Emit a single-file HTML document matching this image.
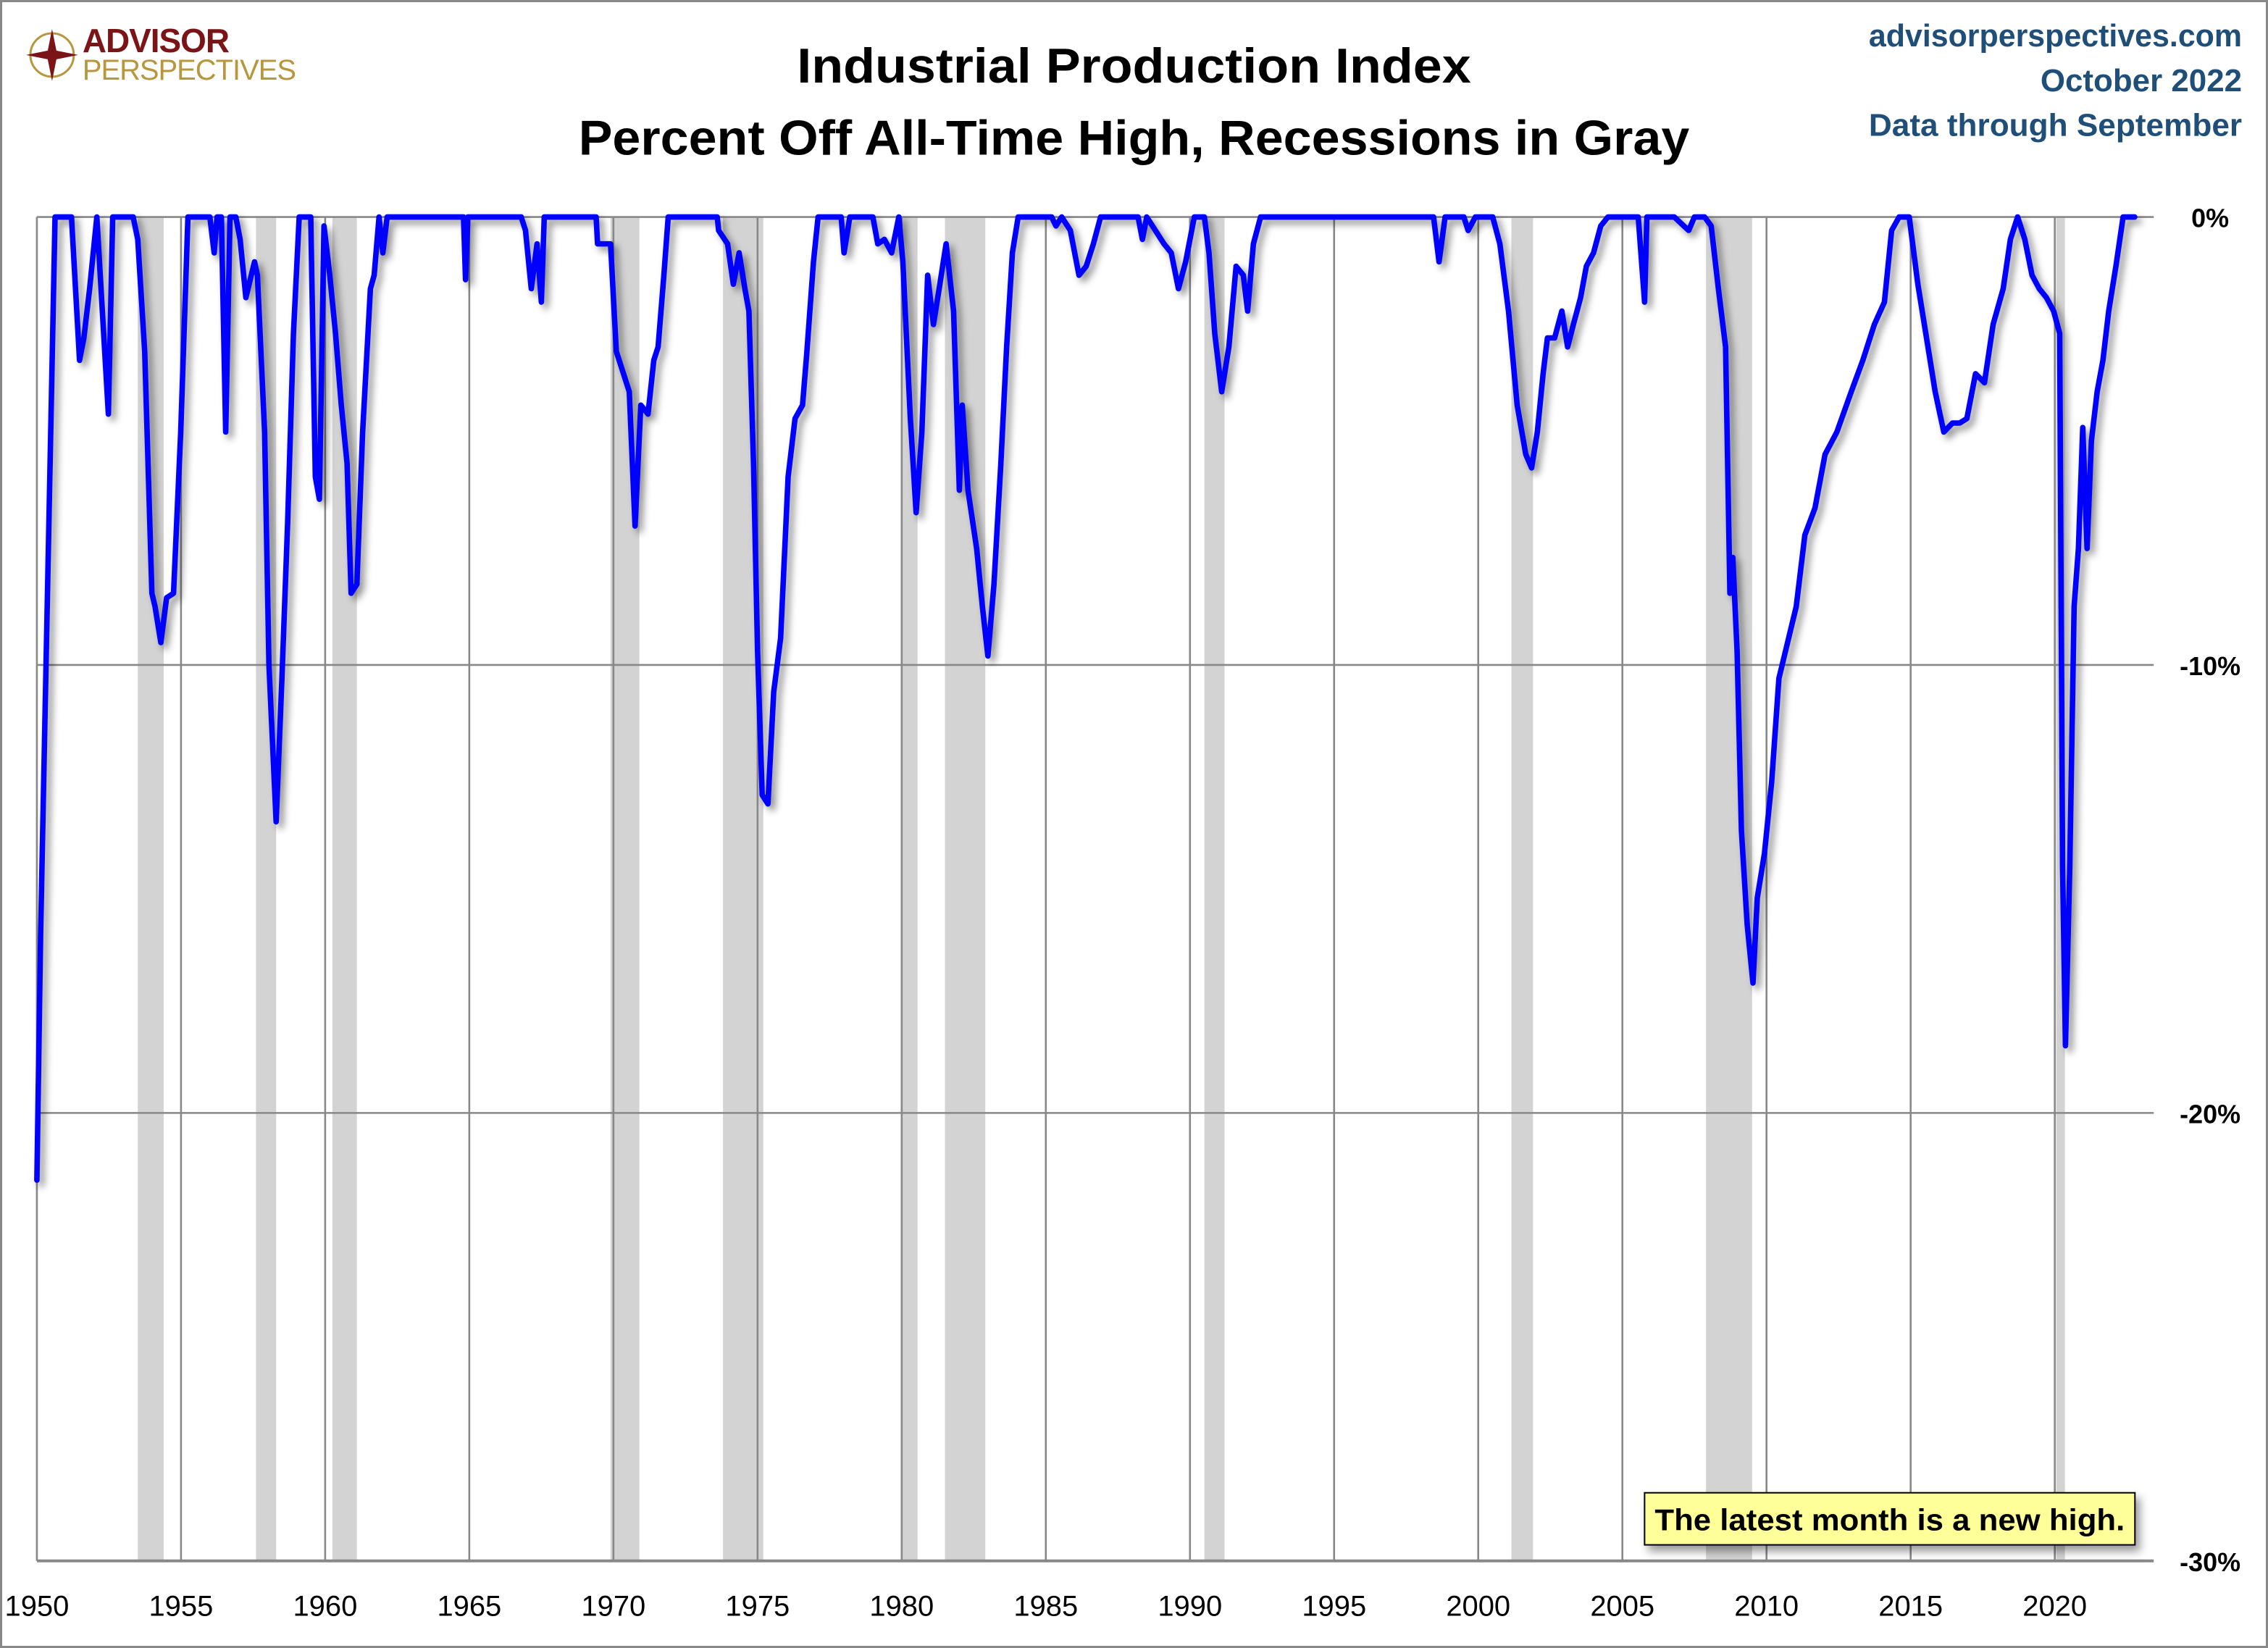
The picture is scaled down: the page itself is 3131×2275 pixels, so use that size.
<!DOCTYPE html>
<html><head><meta charset="utf-8"><style>
html,body{margin:0;padding:0;background:#fff;}
svg{display:block;font-family:"Liberation Sans",sans-serif;}
</style></head><body>
<svg id="chart" width="3131" height="2275" viewBox="0 0 1568 1139.3" xmlns="http://www.w3.org/2000/svg">
<defs>
<filter id="sh" x="-5%" y="-5%" width="110%" height="110%"><feDropShadow dx="3" dy="3" stdDeviation="2.5" flood-color="#000" flood-opacity="0.45"/></filter>
<filter id="bsh" x="-10%" y="-20%" width="120%" height="160%"><feDropShadow dx="3" dy="4" stdDeviation="3" flood-color="#000" flood-opacity="0.4"/></filter>
</defs>
<rect x="0.75" y="0.75" width="1566.5" height="1137.8" fill="#fff" stroke="#888" stroke-width="1.5"/>
<g id="bands"></g>
<g id="grid"></g>
<g id="series"></g>
<g id="labels"></g>
<g>
<circle cx="36" cy="38" r="15" fill="none" stroke="#b8963e" stroke-width="1.5"/>
<polygon points="36,20 39,35 54,38 39,41 36,56 33,41 18,38 33,35" fill="#7b1416"/>
<text x="57" y="36" font-size="23" font-weight="bold" fill="#7b1416" letter-spacing="-0.5">ADVISOR</text>
<text x="57" y="55" font-size="20" fill="#b8963e" letter-spacing="-0.5">PERSPECTIVES</text>
</g>
<text x="784" y="57" text-anchor="middle" font-size="34" font-weight="bold" fill="#000" textLength="466" lengthAdjust="spacingAndGlyphs">Industrial Production Index</text>
<text x="784" y="107" text-anchor="middle" font-size="34" font-weight="bold" fill="#000" textLength="768" lengthAdjust="spacingAndGlyphs">Percent Off All-Time High, Recessions in Gray</text>
<text x="1550" y="32" text-anchor="end" font-size="22" font-weight="bold" fill="#1f4e79" textLength="258" lengthAdjust="spacingAndGlyphs">advisorperspectives.com</text>
<text x="1550" y="63" text-anchor="end" font-size="22" font-weight="bold" fill="#1f4e79">October 2022</text>
<text x="1550" y="94" text-anchor="end" font-size="22" font-weight="bold" fill="#1f4e79" textLength="258" lengthAdjust="spacingAndGlyphs">Data through September</text>
<g>
<rect x="1137" y="1032" width="339" height="36" fill="#ffff99" stroke="#000" stroke-width="1" filter="url(#bsh)"/>
<text x="1306.5" y="1058" text-anchor="middle" font-size="21" font-weight="bold" fill="#000" textLength="325" lengthAdjust="spacingAndGlyphs">The latest month is a new high.</text>
</g>
</svg>
<script>
const years = [
1950.0,1950.13,1950.63,1951.2,1951.48,1951.63,1951.83,1952.08,1952.48,1952.63,
1953.34,1953.5,1953.74,1953.99,1954.1,1954.3,1954.5,1954.74,1954.99,1955.24,
1956.0,1956.15,1956.25,1956.4,1956.55,1956.7,1956.9,1957.05,1957.25,1957.55,
1957.65,1957.9,1958.05,1958.3,1958.5,1958.7,1958.9,1959.1,1959.5,1959.66,
1959.8,1959.96,1960.16,1960.36,1960.56,1960.76,1960.9,1961.1,1961.3,1961.57,
1961.7,1961.87,1962.0,1962.15,1964.8,1964.87,1964.95,1966.8,1966.95,1967.15,
1967.35,1967.5,1967.6,1969.4,1969.45,1969.9,1970.1,1970.3,1970.55,1970.75,
1970.95,1971.2,1971.4,1971.55,1971.75,1971.9,1973.6,1973.65,1973.96,1974.16,
1974.36,1974.56,1974.7,1974.86,1975.0,1975.16,1975.36,1975.56,1975.8,1976.06,
1976.3,1976.56,1976.7,1976.94,1977.1,1977.9,1978.0,1978.2,1979.0,1979.17,
1979.4,1979.65,1979.9,1980.04,1980.3,1980.5,1980.7,1980.9,1981.1,1981.3,
1981.54,1981.8,1982.0,1982.1,1982.3,1982.6,1982.8,1982.99,1983.2,1983.44,
1983.64,1983.84,1984.04,1985.2,1985.35,1985.55,1985.85,1986.15,1986.4,1986.65,
1986.9,1988.2,1988.35,1988.5,1988.7,1989.1,1989.35,1989.6,1989.85,1990.15,
1990.5,1990.66,1990.86,1991.1,1991.35,1991.6,1991.85,1992.0,1992.2,1992.45,
1998.45,1998.64,1998.85,1999.5,1999.65,1999.9,2000.5,2000.75,2001.05,2001.35,
2001.65,2001.85,2002.05,2002.25,2002.4,2002.65,2002.9,2003.1,2003.3,2003.55,
2003.75,2004.0,2004.25,2004.5,2005.55,2005.77,2005.85,2006.8,2007.3,2007.5,
2007.85,2008.08,2008.33,2008.58,2008.73,2008.83,2008.98,2009.13,2009.33,2009.53,
2009.68,2009.93,2010.18,2010.43,2010.73,2011.03,2011.33,2011.68,2012.03,2012.44,
2012.94,2013.34,2013.74,2014.09,2014.34,2014.6,2014.95,2015.25,2015.55,2015.85,
2016.15,2016.45,2016.7,2016.95,2017.25,2017.56,2017.86,2018.21,2018.46,2018.71,
2018.96,2019.21,2019.46,2019.71,2019.96,2020.17,2020.27,2020.37,2020.52,2020.67,
2020.82,2020.97,2021.12,2021.27,2021.47,2021.67,2021.87,2022.12,2022.37,2022.77];
const values = [
-21.5,-16.0,0,0,-3.2,-2.7,-1.6,0,-4.4,0,
0,-0.5,-3.0,-8.4,-8.7,-9.5,-8.5,-8.4,-4.8,0,
0,-0.8,0,0,-4.8,0,0,-0.5,-1.8,-1.0,
-1.3,-4.8,-10.0,-13.5,-10.3,-6.8,-2.6,0,0,-5.8,
-6.3,-0.2,-1.3,-2.6,-4.2,-5.5,-8.4,-8.2,-4.8,-1.6,
-1.3,0,-0.8,0,0,-1.4,0,0,-0.3,-1.6,
-0.6,-1.9,0,0,-0.6,-0.6,-3.0,-3.4,-3.9,-6.9,
-4.2,-4.4,-3.2,-2.9,-1.3,0,0,-0.3,-0.6,-1.5,
-0.8,-1.6,-2.1,-5.5,-9.7,-12.9,-13.1,-10.6,-9.4,-5.8,
-4.5,-4.2,-3.1,-1.0,0,0,-0.8,0,0,-0.6,
-0.5,-0.8,0,-1.0,-4.5,-6.6,-4.8,-1.3,-2.4,-1.6,
-0.6,-2.1,-6.1,-4.2,-6.1,-7.4,-8.7,-9.8,-8.2,-5.5,
-2.9,-0.8,0,0,-0.2,0,-0.3,-1.3,-1.1,-0.6,
0,0,-0.5,0,-0.2,-0.6,-0.8,-1.6,-1.0,0,
0,-0.8,-2.6,-3.9,-2.9,-1.1,-1.3,-2.1,-0.6,0,
0,-1.0,0,0,-0.3,0,0,-0.6,-2.1,-4.2,
-5.3,-5.6,-4.8,-3.5,-2.7,-2.7,-2.1,-2.9,-2.4,-1.8,
-1.1,-0.8,-0.2,0,0,-1.9,0,0,-0.3,0,
0,-0.2,-1.6,-2.9,-8.4,-7.6,-9.7,-13.7,-15.8,-17.1,
-15.2,-14.2,-12.6,-10.3,-9.5,-8.7,-7.1,-6.5,-5.3,-4.8,
-3.9,-3.2,-2.4,-1.9,-0.3,0,0,-1.5,-2.7,-3.9,
-4.8,-4.6,-4.6,-4.5,-3.5,-3.7,-2.4,-1.6,-0.5,0,
-0.5,-1.3,-1.6,-1.8,-2.1,-2.6,-14.5,-18.5,-14.5,-8.7,
-7.4,-4.7,-7.4,-5.0,-3.9,-3.2,-2.1,-1.1,0,0];
const bandStarts = [1953.5,1957.6,1960.25,1969.9,1973.8,1980.0,1981.5,1990.5,2001.15,2007.9,2020.05];
const bandEnds = [1954.4,1958.3,1961.1,1970.9,1975.2,1980.55,1982.9,1991.2,2001.9,2009.5,2020.35];
const xTicks = [1950,1955,1960,1965,1970,1975,1980,1985,1990,1995,2000,2005,2010,2015,2020];
const yTicks = [0,-10,-20,-30];
const yTickLabels = ["0%","-10%","-20%","-30%"];

const NS = "http://www.w3.org/2000/svg";
const X0 = 25.5, PX_PER_YEAR = 19.93, Y0 = 150, PX_PER_PCT = 30.97, XR = 1489;
function xs(y){ return X0 + (y - 1950) * PX_PER_YEAR; }
function ys(v){ return Y0 - v * PX_PER_PCT; }
function mk(tag, attrs, parent){ const e = document.createElementNS(NS, tag); for (const k in attrs) e.setAttribute(k, attrs[k]); parent.appendChild(e); return e; }

const bands = document.getElementById('bands');
bandStarts.forEach((s, i) => {
  const r = mk('rect', {x: xs(s), y: ys(0), width: xs(bandEnds[i]) - xs(s), height: ys(-30) - ys(0), fill: '#d3d3d3'}, bands);
  
  
});

const grid = document.getElementById('grid');
xTicks.forEach(t => {
  const l = mk('line', {x1: xs(t), x2: xs(t), y1: ys(0), y2: ys(-30), stroke: '#888', 'stroke-width': 1.3}, grid);
  
  
});
yTicks.forEach(t => {
  const l = mk('line', {x1: X0, x2: XR, y1: ys(t), y2: ys(t), stroke: '#888', 'stroke-width': t === -30 ? 2 : 1.3}, grid);
  
  
});

const series = document.getElementById('series');
const n = Math.min(years.length, values.length);
let d = '';
for (let i = 0; i < n; i++) { d += (i ? 'L' : 'M') + xs(years[i]).toFixed(2) + ' ' + ys(values[i]).toFixed(2); }
const p = mk('path', {d: d, fill: 'none', stroke: '#0000ff', 'stroke-width': 3.8, 'stroke-linejoin': 'round', 'stroke-linecap': 'round', filter: 'url(#sh)'}, series);



const labels = document.getElementById('labels');
xTicks.forEach(t => {
  const tx = mk('text', {x: xs(t), y: 1117, 'text-anchor': 'middle', 'font-size': 20, fill: '#000'}, labels);
  tx.textContent = String(t);
  
  
});
yTicks.forEach((t, i) => {
  const tx = mk('text', {x: 1528, y: ys(t) + 7, 'text-anchor': 'middle', 'font-size': 18, 'font-weight': 'bold', fill: '#000'}, labels);
  tx.textContent = yTickLabels[i];
  
  
});
</script>
</body></html>
